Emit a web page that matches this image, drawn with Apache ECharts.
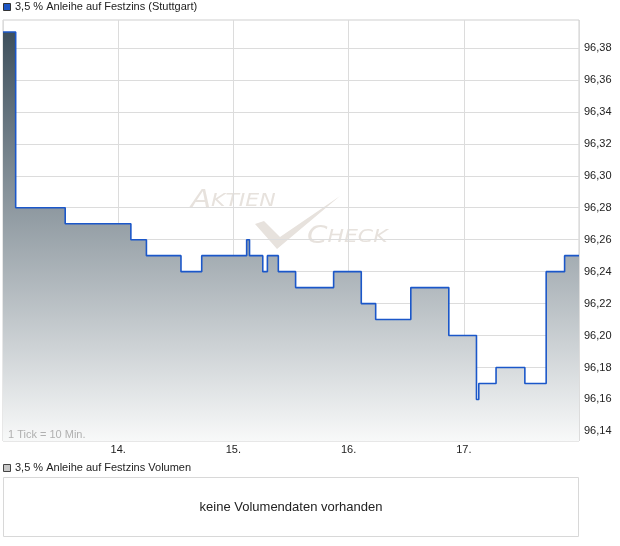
<!DOCTYPE html>
<html><head><meta charset="utf-8">
<script src="https://cdn.jsdelivr.net/npm/echarts@6/dist/echarts.min.js"></script>
<style>html,body{margin:0;padding:0;background:#fff}#c{width:620px;height:546px}</style>
</head><body><div id="c"></div>
<script>
// x = position in trading days from the left edge (0..5), value = price
const priceX = [0, 0.11, 0.54, 1.11, 1.245, 1.545, 1.725, 2.115, 2.14, 2.255, 2.295, 2.39, 2.54, 2.87, 3.11, 3.235, 3.54, 3.87, 4.11, 4.13, 4.28, 4.53, 4.715, 4.875, 5.0];
const priceY = [96.39, 96.28, 96.27, 96.26, 96.25, 96.24, 96.25, 96.26, 96.25, 96.24, 96.25, 96.24, 96.23, 96.24, 96.22, 96.21, 96.23, 96.20, 96.16, 96.17, 96.18, 96.17, 96.24, 96.25, 96.25];
const yTicks = [96.14, 96.16, 96.18, 96.20, 96.22, 96.24, 96.26, 96.28, 96.30, 96.32, 96.34, 96.36, 96.38];
const xTicks = [1, 2, 3, 4];
const xTickLabels = ['14.', '15.', '16.', '17.'];
const seriesName = '3,5 % Anleihe auf Festzins (Stuttgart)';
const volumeName = '3,5 % Anleihe auf Festzins Volumen';
const volumeText = 'keine Volumendaten vorhanden';
const tickNote = '1 Tick = 10 Min.';

const data = priceX.map((x, i) => [x, priceY[i]]);
const FONT = 'Liberation Sans, Arial, sans-serif';
const WM = '#e7e2dd';
const wmRich = {a: {fontSize: 24, fontStyle: 'italic', fill: WM, fontFamily: 'DejaVu Sans'}, b: {fontSize: 18, fontStyle: 'italic', fill: WM, fontFamily: 'DejaVu Sans'}};
const chart = echarts.init(document.getElementById('c'), null, {renderer: 'canvas'});
chart.setOption({
  animation: false,
  textStyle: {fontFamily: FONT},
  grid: {left: 3, top: 20, right: 41, bottom: 105, show: true, borderColor: '#cfcfcf', borderWidth: 1, backgroundColor: 'transparent'},
  xAxis: {
    type: 'value', min: 0, max: 5, interval: 1,
    axisLine: {show: false}, axisTick: {show: false},
    splitLine: {show: true, lineStyle: {color: '#dcdcdc', width: 1}},
    axisLabel: {margin: 3, color: '#222', fontSize: 11, fontFamily: FONT,
      showMinLabel: false, showMaxLabel: false,
      formatter: v => { const i = xTicks.indexOf(v); return i >= 0 ? xTickLabels[i] : ''; }}
  },
  yAxis: {
    type: 'value', position: 'right', min: 96.134, max: 96.3975,
    axisLine: {show: false}, axisTick: {show: false},
    splitLine: {show: false},
    axisLabel: {margin: 5, color: '#222', fontSize: 11, fontFamily: FONT,
      customValues: yTicks,
      formatter: v => v.toFixed(2).replace('.', ',')}
  },
  series: [
    {
      type: 'line', z: 1, silent: true, showSymbol: false,
      data: data, lineStyle: {width: 0, opacity: 0},
      markLine: {z: 1, silent: true, symbol: 'none', label: {show: false},
        lineStyle: {color: '#dcdcdc', width: 1, type: 'solid'},
        data: yTicks.map(v => ({yAxis: v}))}
    },
    {
      name: seriesName, type: 'line', z: 3, step: 'end', showSymbol: false,
      data: data,
      lineStyle: {color: '#1b57c9', width: 1.6},
      areaStyle: {color: new echarts.graphic.LinearGradient(0, 0, 0, 1, [
        {offset: 0, color: '#3e505d'}, {offset: 1, color: '#f8f9f9'}]), opacity: 1}
    }
  ],
  graphic: [
    {type: 'rect', z: 100, shape: {x: 3.5, y: 3.5, width: 7, height: 7}, style: {fill: '#1e56c4', stroke: '#333', lineWidth: 1}},
    {type: 'text', z: 100, left: 15, top: 1, style: {text: seriesName, font: '11px ' + FONT, fill: '#222'}},
    {type: 'text', z: 100, left: 8, top: 429, style: {text: tickNote, font: '11px ' + FONT, fill: '#b0b0b0'}},
    // watermark
    {type: 'text', z: 0, x: 191, y: 213, scaleX: 1.22, style: {text: '{a|A}{b|KTIEN}', rich: wmRich, verticalAlign: 'bottom'}},
    {type: 'text', z: 0, x: 307, y: 249, scaleX: 1.22, style: {text: '{a|C}{b|HECK}', rich: wmRich, verticalAlign: 'bottom'}},
    {type: 'polygon', z: 0, shape: {points: [[255, 224], [264, 221], [280, 237], [340, 196], [277, 249]]}, style: {fill: WM}},
    // volume panel
    {type: 'rect', z: 100, shape: {x: 3.5, y: 464.5, width: 7, height: 7}, style: {fill: '#c8c8c8', stroke: '#444', lineWidth: 1}},
    {type: 'text', z: 100, left: 15, top: 462, style: {text: volumeName, font: '11px ' + FONT, fill: '#222'}},
    {type: 'rect', z: 100, shape: {x: 3.5, y: 477.5, width: 575, height: 59}, style: {fill: '#fff', stroke: '#d8d8d8', lineWidth: 1}},
    {type: 'text', z: 101, x: 291, y: 507, style: {text: volumeText, font: '13px ' + FONT, fill: '#222', align: 'center', verticalAlign: 'middle'}}
  ]
});
</script></body></html>
